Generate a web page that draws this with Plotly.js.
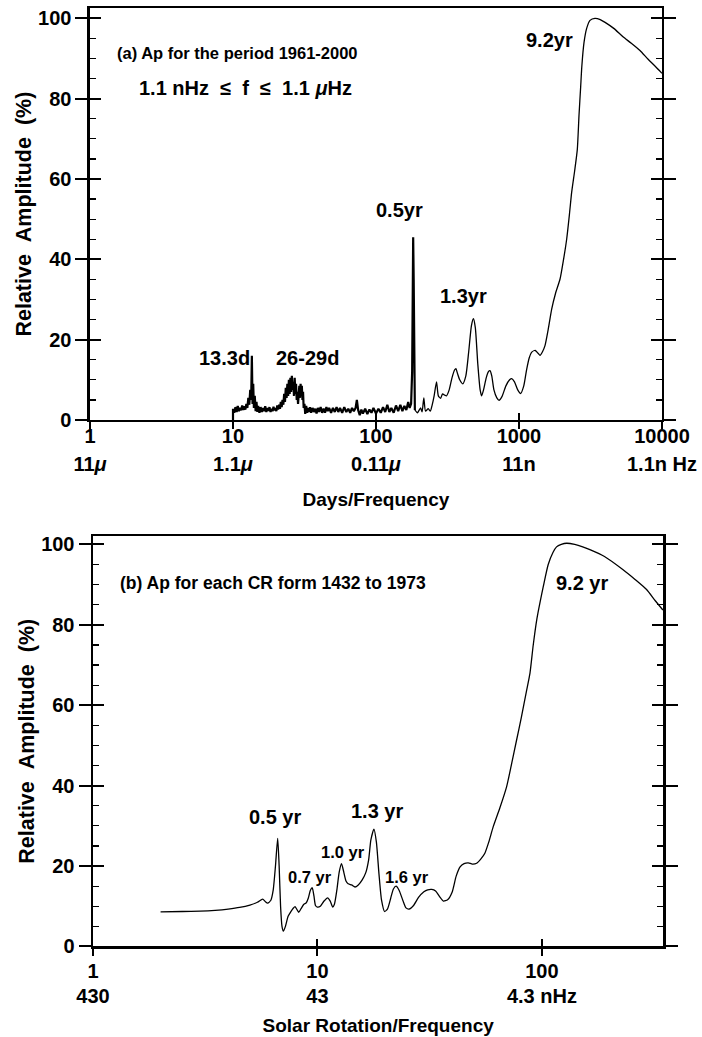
<!DOCTYPE html>
<html>
<head>
<meta charset="utf-8">
<script src="https://cdn.plot.ly/plotly-3.0.1.min.js"></script>
<style>html,body{margin:0;padding:0;background:#fff;}#chart{width:702px;height:1037px;}</style>
</head>
<body>
<div id="chart"></div>
<script>
// ---------- Panel (a): Ap 1961-2000, period in days ----------
const daysA_noise = [10.0, 10.0, 10.2, 10.4, 10.6, 10.8, 11.0, 11.2, 11.4, 11.6,
  11.8, 12.0, 12.2, 12.4, 12.6, 12.8, 13.0, 13.2, 13.4, 13.55,
  13.7, 13.85, 14.0, 14.2, 14.4, 14.6, 14.8, 15.0, 15.3, 15.6,
  15.9, 16.2, 16.5, 16.8, 17.1, 17.4, 17.7, 18.0, 18.3, 18.6,
  18.9, 19.2, 19.5, 19.8, 20.1, 20.4, 20.7, 21.0, 21.3, 21.6,
  21.9, 22.2, 22.5, 22.8, 23.1, 23.4, 23.7, 24.0, 24.3, 24.6,
  24.9, 25.2, 25.5, 25.8, 26.1, 26.4, 26.7, 27.0, 27.3, 27.6,
  27.9, 28.2, 28.5, 28.8, 29.1, 29.4, 29.7, 30.0, 30.3, 30.6,
  30.9, 31.2, 31.6, 32.0, 32.5, 33.0, 33.5, 34.0, 34.6, 35.2,
  36.0, 36.8, 37.6, 38.4, 39.2, 40.0, 41.0, 42.0, 43.0, 44.0,
  45.0, 46.0, 47.0, 48.5, 50.0, 51.5, 53.0, 54.5, 56.0, 58.0,
  60.0, 62.0, 64.0, 66.0, 68.0, 70.0, 72.0, 73.5, 75.0, 77.0,
  79.0, 81.0, 84.0, 87.0, 90.0, 93.0, 96.0, 100.0, 104.0, 108.0,
  112.0, 116.0, 120.0, 124.0, 128.0, 133.0, 138.0, 143.0, 148.0, 153.0,
  158.0, 163.0, 168.0, 172.0, 176.0, 179.0, 180.5, 182.0, 183.5, 185.0,
  187.0];
const ampA_noise = [0, 2.8, 1.8, 3.2, 2.0, 3.5, 2.2, 3.0, 2.4, 3.6,
  2.5, 3.4, 2.6, 4.0, 3.0, 5.5, 3.8, 7.5, 5.0, 16.0,
  4.0, 9.0, 3.0, 6.0, 2.2, 4.5, 2.0, 3.5, 1.8, 3.2,
  2.0, 3.0, 2.2, 3.4, 2.0, 3.0, 2.3, 3.2, 2.0, 2.8,
  2.2, 3.3, 2.4, 3.0, 2.2, 3.6, 2.6, 3.8, 2.8, 4.5,
  3.2, 5.0, 3.8, 6.5, 4.5, 8.0, 5.5, 9.0, 6.0, 10.0,
  6.5, 10.5, 7.0, 11.0, 7.5, 9.5, 6.0, 10.5, 6.5, 9.0,
  5.0, 7.0, 4.0, 6.0, 8.5, 5.5, 9.0, 6.0, 8.5, 5.0,
  7.0, 3.0, 4.0, 1.5, 3.5, 1.8, 3.0, 2.0, 3.2, 1.8,
  3.0, 2.0, 2.8, 1.6, 3.0, 2.0, 3.2, 1.8, 2.8, 1.8,
  3.2, 2.2, 3.0, 1.8, 3.0, 2.0, 3.2, 2.0, 3.0, 1.8,
  3.2, 2.0, 2.8, 1.8, 3.0, 2.2, 3.0, 5.0, 2.5, 1.2,
  2.6, 1.6, 2.8, 1.5, 2.6, 1.8, 3.0, 1.6, 2.8, 1.8,
  3.2, 2.0, 3.8, 2.0, 3.0, 1.8, 3.6, 2.2, 3.8, 2.2,
  3.5, 2.5, 4.5, 3.0, 4.0, 12.0, 35.0, 45.5, 35.0, 12.0,
  2.5];
const daysA_smooth = [187, 195, 205, 210, 216, 222, 232, 240, 247, 255,
  265, 273, 283, 292, 302, 311, 325, 340, 355, 362,
  372, 385, 404, 425, 445, 465, 480, 495, 515, 535,
  548, 565, 590, 610, 627, 645, 668, 700, 725, 760,
  810, 860, 889, 930, 980, 1027, 1080, 1130, 1180, 1228,
  1300, 1360, 1403, 1460, 1520, 1600, 1693, 1800, 1937, 2050,
  2155, 2250, 2334, 2450, 2557, 2630, 2700, 2750, 2850, 2973,
  3138, 3398, 3700, 4000, 4600, 5335, 6100, 7015, 8000, 9000,
  10000];
const ampA_smooth = [2.5, 1.8, 3.0, 2.0, 5.5, 2.2, 2.8, 2.2, 3.7, 6.0,
  9.5, 6.0, 5.4, 6.5, 6.2, 6.0, 7.5, 10.5, 12.5, 12.8,
  11.5, 10.0, 9.0, 11.0, 17.0, 23.5, 25.2, 23.0, 14.0, 7.5,
  6.0, 7.5, 10.5, 12.0, 12.3, 11.0, 7.5, 5.5, 4.9, 5.8,
  8.5, 10.0, 10.3, 9.5, 7.5, 6.6, 8.5, 12.5, 15.5, 16.9,
  17.3, 16.6, 16.1, 17.0, 18.5, 22.5, 27.6, 31.5, 35.1, 40.0,
  45.0, 51.0, 56.6, 62.0, 67.3, 76.0, 83.0, 88.0, 94.0, 97.5,
  99.5, 100.0, 99.7, 99.0, 97.5, 95.4, 93.8, 92.0, 89.8, 88.0,
  86.3];
const tickValsA = [1, 10, 100, 1000, 10000];
const tickRow1A = ['1', '10', '100', '1000', '10000'];
const tickRow2A = ['11<i>\u03bc</i>', '1.1<i>\u03bc</i>', '0.11<i>\u03bc</i>', '11n', '1.1n Hz'];

// ---------- Panel (b): Ap per Carrington rotation ----------
const rotB = [2.0, 2.5, 3.0, 3.5, 4.0, 4.5, 5.0, 5.4, 5.7, 5.85,
  6.0, 6.2, 6.35, 6.5, 6.65, 6.75, 6.85, 6.95, 7.05, 7.2,
  7.4, 7.6, 7.8, 7.95, 8.1, 8.25, 8.45, 8.7, 8.9, 9.1,
  9.3, 9.48, 9.65, 9.8, 10.0, 10.3, 10.7, 11.1, 11.4, 11.7,
  11.9, 12.2, 12.5, 12.8, 13.1, 13.4, 13.7, 14.2, 14.7, 15.2,
  15.8, 16.4, 16.9, 17.3, 17.85, 18.3, 18.8, 19.3, 19.9, 20.5,
  21.2, 21.8, 22.4, 23.1, 24.0, 24.8, 25.6, 26.8, 28.2, 29.8,
  31.0, 32.3, 33.6, 35.0, 36.4, 38.0, 39.8, 41.5, 43.2, 45.0,
  47.0, 49.0, 51.2, 53.5, 55.7, 58.0, 60.7, 65.0, 69.6, 73.0,
  77.1, 81.0, 85.5, 88.5, 91.5, 95.0, 98.0, 101.4, 106.7, 112,
  116.2, 122, 128.9, 140, 152, 163.6, 190, 230, 260, 292.6,
  320, 346];
const ampB = [8.6, 8.7, 8.8, 9.0, 9.3, 9.7, 10.3, 11.0, 11.8, 11.2,
  10.8, 11.5, 14.0, 20.0, 26.9, 20.0, 10.0, 5.0, 3.8, 5.0,
  7.5, 8.6, 9.5, 9.9, 9.2, 8.5, 9.4, 10.5, 10.8, 12.0,
  14.0, 14.6, 12.5, 10.2, 9.8, 10.0, 11.3, 12.1, 11.3, 9.8,
  10.5, 14.0, 18.5, 20.6, 18.5, 16.3, 15.6, 15.3, 14.8, 15.3,
  16.5, 18.3, 21.5, 26.5, 29.2, 26.0, 18.0, 11.5, 8.7, 9.3,
  12.0, 14.3, 15.0, 14.0, 11.5, 9.6, 9.3, 10.2, 12.2, 13.6,
  14.1, 14.2, 13.8, 12.4, 11.3, 11.6, 13.5, 17.5, 19.8, 20.6,
  20.8, 20.5, 20.7, 21.8, 23.2, 26.0, 29.8, 34.5, 39.7, 45.0,
  51.3, 57.0, 63.7, 68.0, 75.0, 81.5, 85.5, 89.5, 95.0, 98.0,
  99.4, 100.0, 100.3, 100.0, 99.4, 98.7, 97.0, 93.7, 91.3, 88.8,
  86.0, 83.7];
const tickValsB = [1, 10, 100];
const tickRow1B = ['1', '10', '100'];
const tickRow2B = ['430', '43', '4.3 nHz'];

const yTickVals = [0, 20, 40, 60, 80, 100];

// ---------- styling ----------
const FONT = 'Liberation Sans, Arial, Helvetica, sans-serif';
const bold = (size) => ({family: FONT, size: size, color: '#000', weight: 'bold'});
const NB = '\u00a0';

function xMain(domain, anchor, range, vals, row1, standoff, title, titleStandoff) {
  return {
    domain: domain, anchor: anchor, type: 'log', range: range,
    showline: true, linecolor: '#000', linewidth: 2.5, mirror: true,
    ticks: 'outside', ticklen: 7, tickwidth: 2, tickcolor: '#000',
    tickmode: 'array', tickvals: vals, ticktext: row1, ticklabelstandoff: standoff,
    tickfont: bold(20), showgrid: false, zeroline: false, automargin: false,
    title: {text: title, font: bold(19), standoff: titleStandoff}
  };
}
function xInner(over, anchor, range, vals, row2, standoff) {
  return {
    overlaying: over, anchor: anchor, type: 'log', range: range,
    showline: false, ticks: 'inside', ticklen: 7, tickwidth: 2, tickcolor: '#000',
    tickmode: 'array', tickvals: vals, ticktext: row2, ticklabelstandoff: standoff,
    tickfont: bold(20), showgrid: false, zeroline: false, automargin: false
  };
}
function yMain(domain, anchor, range) {
  return {
    domain: domain, anchor: anchor, range: range,
    showline: true, linecolor: '#000', linewidth: 2.5, mirror: 'ticks',
    ticks: 'outside', ticklen: 12, tickwidth: 2, tickcolor: '#000',
    tickmode: 'array', tickvals: yTickVals,
    tickfont: bold(20), showgrid: false, zeroline: false, automargin: false,
    title: {text: 'Relative' + NB + NB + 'Amplitude' + NB + NB + '(%)', font: bold(21.5), standoff: 1}
  };
}
function yInner(over, anchor, range) {
  return {
    overlaying: over, anchor: anchor, range: range,
    showline: false, mirror: 'ticks',
    ticks: 'inside', ticklen: 11, tickwidth: 2, tickcolor: '#000',
    tickmode: 'array', tickvals: yTickVals, showticklabels: false,
    minor: {ticks: 'inside', ticklen: 6, tickwidth: 1.2, tickcolor: '#000', tickmode: 'linear', tick0: 0, dtick: 5, showgrid: false},
    showgrid: false, zeroline: false, automargin: false
  };
}

const traces = [
  {x: daysA_noise, y: ampA_noise, xaxis: 'x', yaxis: 'y', mode: 'lines',
   line: {color: '#000', width: 2.2}, hoverinfo: 'skip'},
  {x: daysA_smooth, y: ampA_smooth, xaxis: 'x', yaxis: 'y', mode: 'lines',
   line: {color: '#000', width: 1.3, shape: 'spline', smoothing: 0.6}, hoverinfo: 'skip'},
  {x: rotB, y: ampB, xaxis: 'x2', yaxis: 'y2', mode: 'lines',
   line: {color: '#000', width: 1.3, shape: 'spline', smoothing: 0.6}, hoverinfo: 'skip'},
  // carriers (draw nothing) so that the overlaid tick axes get their subplots
  {x: daysA_smooth, y: ampA_smooth, xaxis: 'x3', yaxis: 'y', mode: 'none', hoverinfo: 'skip'},
  {x: daysA_smooth, y: ampA_smooth, xaxis: 'x', yaxis: 'y3', mode: 'none', hoverinfo: 'skip'},
  {x: rotB, y: ampB, xaxis: 'x4', yaxis: 'y2', mode: 'none', hoverinfo: 'skip'},
  {x: rotB, y: ampB, xaxis: 'x2', yaxis: 'y4', mode: 'none', hoverinfo: 'skip'}
];

function ann(xref, yref, x, y, text, size, anchor) {
  return {xref: xref, yref: yref, x: x, y: y, text: text, showarrow: false,
          xanchor: anchor || 'center', yanchor: 'middle', font: bold(size)};
}

const annotations = [
  ann('x', 'y', 0.175, 91.4, '(a) Ap for the period 1961-2000', 16.5, 'left'),
  ann('x', 'y', 0.329, 82.6, '1.1' + NB + 'nHz' + NB + NB + '\u2264' + NB + NB + 'f' + NB + NB + '\u2264' + NB + NB + '1.1' + NB + '<i>\u03bc</i>Hz', 20, 'left'),
  ann('x', 'y', 3.21, 94.6, '9.2yr', 20),
  ann('x', 'y', 2.161, 52.3, '0.5yr', 20),
  ann('x', 'y', 2.615, 30.8, '1.3yr', 20),
  ann('x', 'y', 0.944, 15.4, '13.3d', 20),
  ann('x', 'y', 1.524, 15.4, '26-29d', 20),
  ann('x2', 'y2', 0.113, 90.3, '(b) Ap for each CR form 1432 to 1973', 17.5, 'left'),
  ann('x2', 'y2', 2.179, 90.4, '9.2 yr', 20),
  ann('x2', 'y2', 0.811, 32.3, '0.5 yr', 20),
  ann('x2', 'y2', 1.264, 33.8, '1.3 yr', 20),
  ann('x2', 'y2', 1.114, 23.6, '1.0 yr', 16.5),
  ann('x2', 'y2', 0.965, 17.4, '0.7 yr', 16.5),
  ann('x2', 'y2', 1.398, 17.4, '1.6 yr', 16.5)
];

const layout = {
  width: 702, height: 1037,
  margin: {l: 0, r: 0, t: 0, b: 0},
  paper_bgcolor: '#fff', plot_bgcolor: '#fff',
  showlegend: false,
  xaxis: xMain([0.1282, 0.9430], 'y', [0, 4], tickValsA, tickRow1A, -10, 'Days/Frequency', 46),
  yaxis: yMain([0.5950, 0.9920], 'x', [0, 102.5]),
  xaxis3: xInner('x', 'y', [0, 4], tickValsA, tickRow2A, 30),
  yaxis3: yInner('y', 'x', [0, 102.5]),
  xaxis2: xMain([0.1325, 0.9449], 'y2', [0, 2.541], tickValsB, tickRow1B, -2, 'Solar Rotation/Frequency', 38),
  yaxis2: yMain([0.0873, 0.4831], 'x2', [0, 102.1]),
  xaxis4: xInner('x2', 'y2', [0, 2.541], tickValsB, tickRow2B, 36),
  yaxis4: yInner('y2', 'x2', [0, 102.1]),
  annotations: annotations
};

Plotly.newPlot('chart', traces, layout, {staticPlot: true, displayModeBar: false});
</script>
</body>
</html>
